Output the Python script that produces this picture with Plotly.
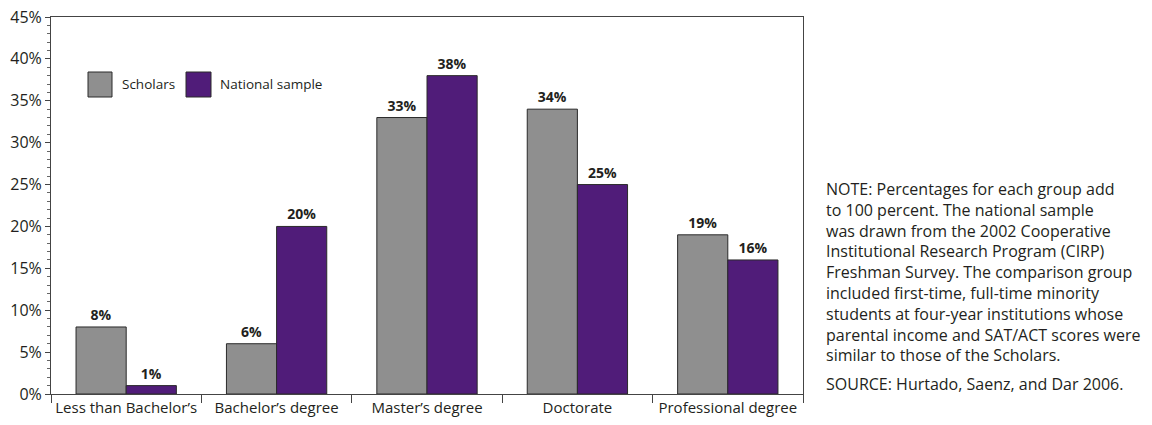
import plotly.graph_objects as go

categories = ["Less than Bachelor\u2019s", "Bachelor\u2019s degree", "Master\u2019s degree", "Doctorate", "Professional degree"]
scholars = [8, 6, 33, 34, 19]
national = [1, 20, 38, 25, 16]
series_names = ["Scholars", "National sample"]
y_ticks = [0, 5, 10, 15, 20, 25, 30, 35, 40, 45]

GRAY = "#8f8f8f"
PURPLE = "#501c79"
EDGE = "#2a2a2a"
FONT = "Open Sans"
TXT = "#231f20"

fig = go.Figure()
for name, vals, col in [(series_names[0], scholars, GRAY), (series_names[1], national, PURPLE)]:
    fig.add_trace(go.Bar(
        x=categories, y=vals, name=name,
        marker=dict(color=col, line=dict(color=EDGE, width=1)),
        text=[f"{v}%" for v in vals], textposition="outside",
        textfont=dict(family=FONT, size=14, color=TXT, weight="bold"),
        cliponaxis=False, showlegend=False,
    ))

W, H = 1152, 425
L, R, T, B = 51, 803, 17, 394

fig.update_layout(
    width=W, height=H,
    margin=dict(l=L, r=W - R, t=T, b=H - B, autoexpand=False),
    paper_bgcolor="white", plot_bgcolor="white",
    barmode="group", bargap=0.333, bargroupgap=0,
    font=dict(family=FONT, size=15, color=TXT),
    showlegend=False,
)
fig.update_yaxes(
    range=[0, 45], tickvals=y_ticks, ticktext=[f"{v}%" for v in y_ticks],
    showgrid=False, zeroline=False, automargin=False,
    showline=True, linecolor="#444", linewidth=1, mirror=True,
    ticks="outside", ticklen=5, tickcolor="#444", tickwidth=1,
    minor=dict(dtick=1, ticks="outside", ticklen=3, tickcolor="#666", tickwidth=1),
    tickfont=dict(family=FONT, size=16, color=TXT),
)
fig.update_xaxes(
    showgrid=False, showline=True, linecolor="#444", linewidth=1, mirror=True,
    ticks="outside", tickson="boundaries", ticklen=8, tickcolor="#444",
    automargin=False, tickangle=0,
    tickfont=dict(family=FONT, size=15, color=TXT),
)

def px(x):
    return (x - L) / (R - L)

def py(y):
    return (B - y) / (B - T)

# legend drawn inside plot
for x0, x1, col, label, tx in [(88, 112, GRAY, series_names[0], 120), (186, 211, PURPLE, series_names[1], 218)]:
    fig.add_shape(type="rect", xref="paper", yref="paper",
                  x0=px(x0), x1=px(x1), y0=py(97), y1=py(72),
                  fillcolor=col, line=dict(color=EDGE, width=1))
    fig.add_annotation(xref="paper", yref="paper", x=px(tx), y=py(84.5),
                       xanchor="left", yanchor="middle", showarrow=False,
                       text=label, font=dict(family=FONT, size=13.5, color=TXT))

note = ("NOTE: Percentages for each group add<br>to 100 percent. The national sample<br>"
        "was drawn from the 2002 Cooperative<br>Institutional Research Program (CIRP)<br>"
        "Freshman Survey. The comparison group<br>included first-time, full-time minority<br>"
        "students at four-year institutions whose<br>parental income and SAT/ACT scores were<br>"
        "similar to those of the Scholars.")
fig.add_annotation(xref="paper", yref="paper", x=px(824), y=py(176),
                   xanchor="left", yanchor="top", align="left", showarrow=False,
                   text=note, font=dict(family=FONT, size=16, color=TXT))
fig.add_annotation(xref="paper", yref="paper", x=px(824), y=py(384),
                   xanchor="left", yanchor="middle", align="left", showarrow=False,
                   text="SOURCE: Hurtado, Saenz, and Dar 2006.", font=dict(family=FONT, size=16, color=TXT))

fig.write_html("out.html", config={"displayModeBar": False},
               post_script="document.body.style.margin='0';document.body.style.overflow='hidden';")
